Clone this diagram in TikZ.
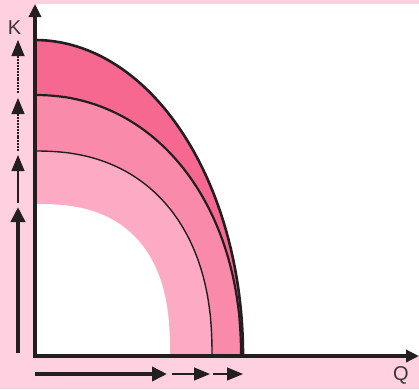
\documentclass[tikz,border=0pt]{standalone}
\usepackage{fontspec}
\setmainfont{Liberation Sans}
\usetikzlibrary{arrows.meta}
\definecolor{bgpink}{HTML}{FFD0E0}
\definecolor{bandA}{HTML}{F76890}
\definecolor{bandB}{HTML}{FA8AAA}
\definecolor{bandC}{HTML}{FDAAC4}
\definecolor{ink}{HTML}{231F20}
\begin{document}
\begin{tikzpicture}[x=1pt,y=-1pt,
  axisline/.style={ink,line width=3.4pt,-{Triangle[length=13pt,width=12pt]}},
  thickarrow/.style={ink,line width=3.6pt,-{Triangle[length=15pt,width=14pt]}},
  thinarrow/.style={ink,line width=1.3pt,-{Triangle[length=16pt,width=13pt]}},
  dotarrow/.style={ink,line width=1.3pt,dash pattern=on 2pt off 0.9pt,-{Triangle[length=16pt,width=13pt]}},
  curveline/.style={ink,line width=#1},
  lbl/.style={font=\fontsize{20}{20}\selectfont,text=ink!90,inner sep=0pt}]
\useasboundingbox (0,0) rectangle (419,389);
\fill[bgpink] (0,0) rectangle (419,389);
\fill[white] (37,4) rectangle (419,355);
% bands
\fill[bandA] (35,355) -- plot[domain=0:90,samples=80,variable=\t] ({35+208*cos(\t)},{355-315*sin(\t)}) -- cycle;
\fill[bandB] (35,355) -- plot[domain=0:90,samples=80,variable=\t] ({35+206*pow(max(cos(\t),0.0001),2/2.1)},{355-260*pow(max(sin(\t),0.0001),2/2.1)}) -- cycle;
\fill[bandC] (35,355) -- plot[domain=0:90,samples=80,variable=\t] ({35+177*pow(max(cos(\t),0.0001),2/2.3)},{355-204*pow(max(sin(\t),0.0001),2/2.3)}) -- cycle;
\fill[white] (35,355) -- plot[domain=0:90,samples=80,variable=\t] ({35+135*pow(max(cos(\t),0.0001),2/2.55)},{355-151*pow(max(sin(\t),0.0001),2/2.55)}) -- cycle;
% curve lines
\draw[curveline=2.6pt] plot[domain=0:90,samples=80,variable=\t] ({35+208*cos(\t)},{355-315*sin(\t)});
\draw[curveline=2.2pt] plot[domain=0:90,samples=80,variable=\t] ({35+206*pow(max(cos(\t),0.0001),2/2.1)},{355-260*pow(max(sin(\t),0.0001),2/2.1)});
\draw[curveline=1.4pt] plot[domain=0:90,samples=80,variable=\t] ({35+177*pow(max(cos(\t),0.0001),2/2.3)},{355-204*pow(max(sin(\t),0.0001),2/2.3)});
% axes
\coordinate (o) at (35,357);
\coordinate (ktip) at (35,4);
\coordinate (o2) at (33,356);
\coordinate (qtip) at (419,356);
\draw[axisline] (o) -- (ktip);
\draw[axisline] (o2) -- (qtip);
\node[lbl] (K) at (14.5,27.5) {K};
\node[lbl] (Q) at (401,375.5) {Q};
% left arrows
\coordinate (l0) at (18,353);
\coordinate (l1) at (18,207);
\coordinate (l1b) at (18,203);
\coordinate (l2) at (18,155);
\coordinate (l2b) at (18,151);
\coordinate (l3) at (18,98);
\coordinate (l3b) at (18,93);
\coordinate (l4) at (18,40);
\draw[thickarrow] (l0) -- (l1);
\draw[thinarrow] (l1b) -- (l2);
\draw[dotarrow] (l2b) -- (l3);
\draw[dotarrow] (l3b) -- (l4);
% bottom arrows
\coordinate (b0) at (35,374);
\coordinate (b1) at (167,374);
\coordinate (b1b) at (172,374);
\coordinate (b2) at (210,374);
\coordinate (b2b) at (213,374);
\coordinate (b3) at (243,374);
\draw[thickarrow] (b0) -- (b1);
\draw[thinarrow] (b1b) -- (b2);
\draw[thinarrow] (b2b) -- (b3);
\end{tikzpicture}
\end{document}
